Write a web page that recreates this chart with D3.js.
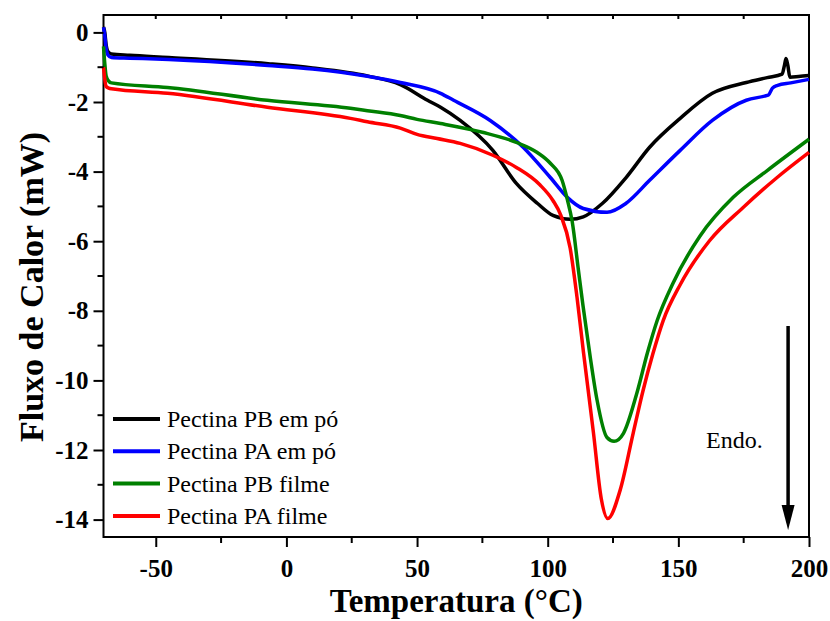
<!DOCTYPE html>
<html>
<head>
<meta charset="utf-8">
<script src="https://cdn.jsdelivr.net/npm/d3@7"></script>
<style>
  body { margin: 0; background: #fff; }
  svg, svg text { font-family: "Liberation Serif", "Times New Roman", serif; }
</style>
</head>
<body>
<svg id="chart" width="830" height="621"></svg>
<script>
// temperature (°C) / heat flow (mW)
const pbPoT = [-70, -69.5, -69, -68.3, -67, -60, -45, -7, 10, 31, 43.6, 54, 59, 66.5, 79, 88, 96, 102, 108.6, 113.6, 121, 130, 139, 150.7, 163, 176, 184, 189.7, 190.6, 191.2, 191.9, 192.7, 196, 200];
const pbPoV = [0.15, 0.0, -0.35, -0.55, -0.62, -0.66, -0.72, -0.9, -1.02, -1.25, -1.5, -1.95, -2.15, -2.53, -3.39, -4.34, -4.91, -5.26, -5.37, -5.3, -4.91, -4.17, -3.3, -2.47, -1.75, -1.44, -1.3, -1.2, -0.95, -0.75, -0.95, -1.29, -1.27, -1.24];

const paPoT = [-70, -69.5, -69, -68.3, -67, -60, -45, -7, 10, 31, 43.6, 59, 64, 78, 90.6, 101, 107.5, 113.6, 122.7, 130, 139, 150.7, 163, 176, 183, 184.5, 186, 188, 193, 200];
const paPoV = [0.15, -0.1, -0.45, -0.65, -0.72, -0.74, -0.78, -0.95, -1.05, -1.26, -1.44, -1.75, -1.95, -2.53, -3.3, -4.17, -4.74, -5.06, -5.17, -4.91, -4.25, -3.39, -2.53, -1.95, -1.83, -1.8, -1.6, -1.52, -1.45, -1.35];

const pbFilmeT = [-70, -69.5, -69, -68, -67, -45.5, -7.3, 24.5, 31, 43.6, 50, 59, 75, 88, 96, 101, 105.5, 107.5, 109.4, 111.7, 113.5, 116.3, 118.9, 122.7, 125.4, 129, 134, 138.2, 141.9, 148, 158.3, 171, 184, 200];
const pbFilmeV = [-0.4, -0.9, -1.25, -1.4, -1.45, -1.58, -1.95, -2.18, -2.25, -2.39, -2.5, -2.62, -2.87, -3.16, -3.45, -3.76, -4.25, -4.8, -5.45, -6.8, -7.85, -9.34, -10.57, -11.64, -11.75, -11.52, -10.4, -9.2, -8.28, -7.2, -5.85, -4.74, -3.97, -3.07];

const paFilmeT = [-70, -69.5, -69, -68, -67, -45.5, -7.3, 24.5, 31, 43.6, 50, 57.7, 66.5, 79, 88, 97, 102, 105, 108.6, 111.2, 113.7, 117.5, 120.5, 123, 127.7, 132.7, 136.5, 140.2, 144.2, 150.7, 162, 174.8, 187.8, 200];
const paFilmeV = [-1.0, -1.35, -1.55, -1.6, -1.62, -1.75, -2.15, -2.47, -2.57, -2.75, -2.93, -3.05, -3.19, -3.53, -3.88, -4.38, -4.83, -5.25, -6.2, -7.6, -9.2, -11.5, -13.4, -13.97, -13.16, -11.52, -10.29, -9.25, -8.28, -7.25, -5.98, -5.03, -4.17, -3.45];

const seriesNames = ["Pectina PB em pó", "Pectina PA em pó", "Pectina PB filme", "Pectina PA filme"];
const seriesColors = ["#000000", "#0000ff", "#008000", "#ff0000"];

const xTicks = [-50, 0, 50, 100, 150, 200];
const xMinor = [-25, 25, 75, 125, 175];
const yTicks = [-14, -12, -10, -8, -6, -4, -2, 0];
const yMinor = [-13, -11, -9, -7, -5, -3, -1];

const svg = d3.select('#chart');
const plotLeft = 103.5, plotRight = 809, plotTop = 15, plotBottom = 537;
const serif = '"Liberation Serif", "Times New Roman", serif';

const x = d3.scaleLinear().domain([-70, 200]).range([plotLeft, plotRight]);
const y = d3.scaleLinear().domain([-14.5, 0.5]).range([plotBottom, plotTop]);

const series = [
    {T: pbPoT, V: pbPoV},
    {T: paPoT, V: paPoV},
    {T: pbFilmeT, V: pbFilmeV},
    {T: paFilmeT, V: paFilmeV}
];

// frame
svg.append('rect')
    .attr('x', plotLeft).attr('y', plotTop)
    .attr('width', plotRight - plotLeft).attr('height', plotBottom - plotTop)
    .attr('fill', 'none').attr('stroke', '#000').attr('stroke-width', 2);

// curves
const line = d3.line()
    .x(d => x(d[0]))
    .y(d => y(d[1]))
    .curve(d3.curveMonotoneX);

series.forEach((s, i) => {
    svg.append('path')
        .datum(s.T.map((t, j) => [t, s.V[j]]))
        .attr('d', line)
        .attr('fill', 'none')
        .attr('stroke', seriesColors[i])
        .attr('stroke-width', 3.5)
        .attr('stroke-linejoin', 'round');
});

// axes
const xAxis = svg.append('g')
    .attr('transform', `translate(0,${plotBottom})`)
    .call(d3.axisBottom(x).tickValues(xTicks).tickSize(10).tickSizeOuter(0).tickPadding(12).tickFormat(d => String(d)));
xAxis.append('g').selectAll('line')
    .data(xMinor).enter().append('line')
    .attr('x1', d => x(d)).attr('x2', d => x(d))
    .attr('y1', 0).attr('y2', 6);

const yAxis = svg.append('g')
    .attr('transform', `translate(${plotLeft},0)`)
    .call(d3.axisLeft(y).tickValues(yTicks).tickSize(10).tickSizeOuter(0).tickPadding(5).tickFormat(d => String(d)));
yAxis.append('g').selectAll('line')
    .data(yMinor).enter().append('line')
    .attr('y1', d => y(d)).attr('y2', d => y(d))
    .attr('x1', 0).attr('x2', -6);

// small inward ticks on the top border
svg.append('g').selectAll('line')
    .data(xTicks.concat(xMinor).filter(d => d < 200)).enter().append('line')
    .attr('x1', d => x(d)).attr('x2', d => x(d))
    .attr('y1', plotTop).attr('y2', plotTop + 4);

svg.selectAll('.domain').remove();
svg.selectAll('line').attr('stroke', '#000').attr('stroke-width', 2);
svg.selectAll('.tick text')
    .style('font-family', serif)
    .style('font-size', '25px')
    .style('font-weight', 'bold')
    .attr('fill', '#000');

// axis titles
svg.append('text')
    .attr('x', (plotLeft + plotRight) / 2).attr('y', 612)
    .attr('text-anchor', 'middle')
    .style('font-family', serif)
    .style('font-size', '33px').style('font-weight', 'bold')
    .text('Temperatura (°C)');

svg.append('text')
    .attr('transform', 'translate(43,287) rotate(-90)')
    .attr('text-anchor', 'middle')
    .style('font-family', serif)
    .style('font-size', '34px').style('font-weight', 'bold')
    .text('Fluxo de Calor (mW)');

// legend
const legend = svg.append('g');
seriesNames.forEach((name, i) => {
    const ly = 419 + i * 32.3;
    legend.append('line')
        .attr('x1', 113).attr('x2', 160)
        .attr('y1', ly).attr('y2', ly)
        .attr('stroke', seriesColors[i]).attr('stroke-width', 4);
    legend.append('text')
        .attr('x', 167).attr('y', ly + 8)
        .style('font-family', serif)
        .style('font-size', '24px')
        .text(name);
});

// endothermic arrow
const ax = x(192);
svg.append('line')
    .attr('x1', ax).attr('x2', ax)
    .attr('y1', 326).attr('y2', 505)
    .attr('stroke', '#000').attr('stroke-width', 3.5);
svg.append('path')
    .attr('d', `M${ax - 6.5},505 L${ax + 6.5},505 L${ax},530 Z`)
    .attr('fill', '#000');

svg.append('text')
    .attr('x', 706).attr('y', 448)
    .style('font-family', serif)
    .style('font-size', '24px')
    .text('Endo.');
</script>
</body>
</html>
